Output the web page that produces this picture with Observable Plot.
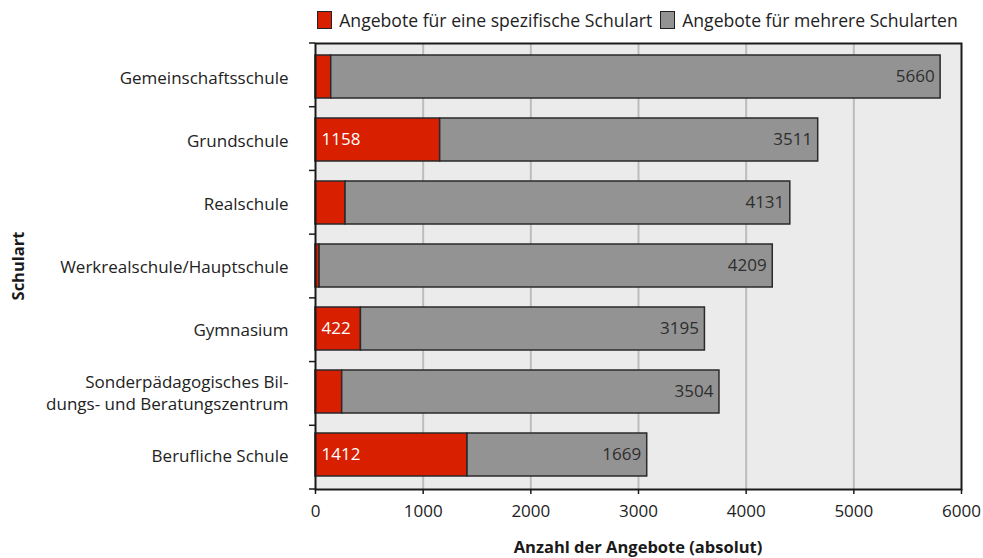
<!DOCTYPE html>
<html>
<head>
<meta charset="utf-8">
<script src="https://cdn.jsdelivr.net/npm/d3@7"></script>
<script src="https://cdn.jsdelivr.net/npm/@observablehq/plot@0.6"></script>
<style>
  body { margin: 0; background: #fff; font-family: "Open Sans", sans-serif; }
  #legend { width: 983px; height: 36px; box-sizing: border-box; padding-left: 313px; padding-right: 21px;
            display: flex; align-items: center; justify-content: center; gap: 8px; font-size: 17.6px; color: #222; padding-top: 4px; }
  .item { display: flex; align-items: center; white-space: nowrap; }
  .sw { width: 13px; height: 16px; border: 1.5px solid #222; margin-right: 7px; }
</style>
</head>
<body>
<div id="legend"></div>
<div id="chart"></div>
<script>
const categories = [
  "Gemeinschaftsschule",
  "Grundschule",
  "Realschule",
  "Werkrealschule/Hauptschule",
  "Gymnasium",
  "Sonderpädagogisches Bil-\ndungs- und Beratungszentrum",
  "Berufliche Schule"
];
const seriesNames = ["Angebote für eine spezifische Schulart", "Angebote für mehrere Schularten"];
const seriesColors = ["#d81f00", "#939393"];
const specific = [146, 1158, 279, 38, 422, 248, 1412];
const multiple = [5660, 3511, 4131, 4209, 3195, 3504, 1669];
const xTicks = [0, 1000, 2000, 3000, 4000, 5000, 6000];
const xLabel = "Anzahl der Angebote (absolut)";
const yLabel = "Schulart";

// legend
const legend = d3.select("#legend");
seriesNames.forEach((s, i) => {
  const it = legend.append("div").attr("class", "item");
  it.append("div").attr("class", "sw").style("background", seriesColors[i]);
  it.append("span").text(s);
});

const rows = [];
categories.forEach((c, i) => {
  rows.push({cat: c, series: seriesNames[0], value: specific[i]});
  rows.push({cat: c, series: seriesNames[1], value: multiple[i]});
});
const redLabels = categories.map((c, i) => ({cat: c, v: specific[i]})).filter(d => d.v >= 400);
const grayLabels = categories.map((c, i) => ({cat: c, v: multiple[i], end: specific[i] + multiple[i]}));

const W = 983, H = 522, ML = 315, MR = 22, MT = 7, MB = 69;
const pi = 0.31;

const plot = Plot.plot({
  width: W, height: H,
  marginLeft: ML, marginRight: MR, marginTop: MT, marginBottom: MB,
  style: {fontFamily: "Open Sans, sans-serif", fontSize: "17px", color: "#222", background: "white"},
  x: {domain: [0, 6000]},
  y: {domain: categories, paddingInner: pi, paddingOuter: pi / 2},
  color: {domain: seriesNames, range: seriesColors},
  marks: [
    Plot.frame({fill: "#ebebeb", stroke: null}),
    Plot.gridX({ticks: [1000, 2000, 3000, 4000, 5000], stroke: "#bdbdbd", strokeOpacity: 1, strokeWidth: 2}),
    Plot.barX(rows, {x: "value", y: "cat", fill: "series", stroke: "#2a2a2a", strokeWidth: 1.5, order: seriesNames}),
    Plot.text(redLabels, {x: 0, y: "cat", text: d => String(d.v), textAnchor: "start", dx: 6, fill: "white", fontSize: 17}),
    Plot.text(grayLabels, {x: "end", y: "cat", text: d => String(d.v), textAnchor: "end", dx: -6, fill: "#2e2e2e", fontSize: 17}),
    Plot.frame({stroke: "#1a1a1a", strokeWidth: 2}),
    Plot.axisX({ticks: xTicks, tickFormat: d => String(d), tickSize: 5, tickPadding: 10, label: null, stroke: "#1a1a1a", strokeWidth: 1.5}),
    Plot.axisY({tickSize: 0, tickPadding: 27, label: null, lineHeight: 1.3})
  ]
});
document.getElementById("chart").appendChild(plot);

// boundary ticks on the y axis
const ys = plot.scale("y");
const svg = d3.select(plot);
const yFn = d3.scaleBand().domain(ys.domain).range(ys.range).paddingInner(ys.paddingInner).paddingOuter(ys.paddingOuter);
const half = (yFn.step() - yFn.bandwidth()) / 2;
const bounds = categories.map(c => yFn(c) - half).concat([yFn(categories[categories.length - 1]) + yFn.bandwidth() + half]);
svg.append("g").selectAll("line").data(bounds).join("line")
  .attr("x1", ML - 6).attr("x2", ML).attr("y1", d => d).attr("y2", d => d)
  .attr("stroke", "#1a1a1a").attr("stroke-width", 1.5);

// axis titles
svg.append("text").attr("x", (ML + W - MR) / 2).attr("y", H - 5)
  .attr("text-anchor", "middle").attr("font-weight", "bold").attr("font-size", 16.5).attr("fill", "#1a1a1a").text(xLabel);
const yc = (ys.range[0] + ys.range[1]) / 2;
svg.append("text").attr("transform", `translate(24,${yc}) rotate(-90)`)
  .attr("text-anchor", "middle").attr("font-weight", "bold").attr("font-size", 16.5).attr("fill", "#1a1a1a").text(yLabel);
</script>
</body>
</html>
